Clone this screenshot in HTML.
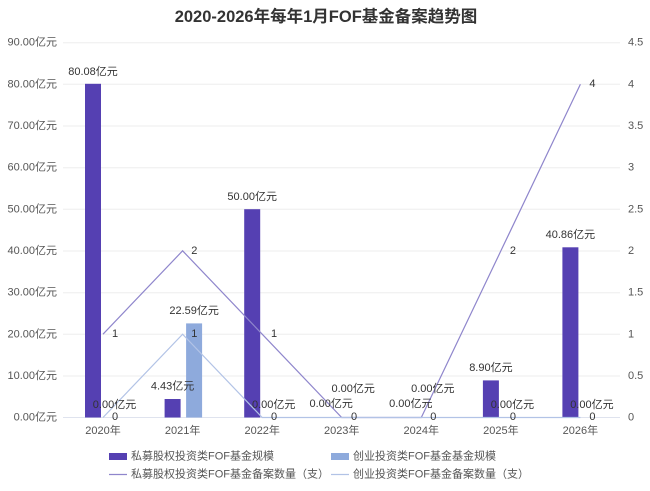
<!DOCTYPE html>
<html><head><meta charset="utf-8">
<style>
html,body{margin:0;padding:0;background:#fff;}
svg{display:block;}
text{font-family:"Liberation Sans","Noto Sans CJK SC",sans-serif;}
</style></head>
<body>
<svg width="650" height="491" viewBox="0 0 650 491" xmlns="http://www.w3.org/2000/svg">
<rect width="650" height="491" fill="#fff"/>
<text x="326" y="17" text-anchor="middle" dominant-baseline="central" font-size="16.5" font-weight="bold" fill="#333">2020-2026年每年1月FOF基金备案趋势图</text>

<!-- grid -->
<g stroke="#eeeeee" stroke-width="1">
<line x1="63" x2="620" y1="42.7" y2="42.7"/>
<line x1="63" x2="620" y1="84.3" y2="84.3"/>
<line x1="63" x2="620" y1="126" y2="126"/>
<line x1="63" x2="620" y1="167.7" y2="167.7"/>
<line x1="63" x2="620" y1="209.3" y2="209.3"/>
<line x1="63" x2="620" y1="251" y2="251"/>
<line x1="63" x2="620" y1="292.7" y2="292.7"/>
<line x1="63" x2="620" y1="334.3" y2="334.3"/>
<line x1="63" x2="620" y1="376" y2="376"/>
</g>
<line x1="63" x2="620" y1="417.5" y2="417.5" stroke="#dfe3ee" stroke-width="1"/>

<!-- left axis -->
<g font-size="11" fill="#555" text-anchor="end" dominant-baseline="central">
<text x="57" y="42.7">90.00亿元</text>
<text x="57" y="84.3">80.00亿元</text>
<text x="57" y="126">70.00亿元</text>
<text x="57" y="167.7">60.00亿元</text>
<text x="57" y="209.3">50.00亿元</text>
<text x="57" y="251">40.00亿元</text>
<text x="57" y="292.7">30.00亿元</text>
<text x="57" y="334.3">20.00亿元</text>
<text x="57" y="376">10.00亿元</text>
<text x="57" y="417.5">0.00亿元</text>
</g>
<!-- right axis -->
<g font-size="11" fill="#555" text-anchor="start" dominant-baseline="central">
<text x="628" y="42.7">4.5</text>
<text x="628" y="84.3">4</text>
<text x="628" y="126">3.5</text>
<text x="628" y="167.7">3</text>
<text x="628" y="209.3">2.5</text>
<text x="628" y="251">2</text>
<text x="628" y="292.7">1.5</text>
<text x="628" y="334.3">1</text>
<text x="628" y="376">0.5</text>
<text x="628" y="417.5">0</text>
</g>
<!-- x labels -->
<g font-size="11" fill="#555" text-anchor="middle" dominant-baseline="central">
<text x="103" y="431">2020年</text>
<text x="182.6" y="431">2021年</text>
<text x="262.2" y="431">2022年</text>
<text x="341.7" y="431">2023年</text>
<text x="421.3" y="431">2024年</text>
<text x="500.9" y="431">2025年</text>
<text x="580.4" y="431">2026年</text>
</g>

<!-- bars -->
<g fill="#5540b2">
<rect x="85" y="83.8" width="16" height="333.7"/>
<rect x="164.6" y="399" width="16" height="18.5"/>
<rect x="244.2" y="209.2" width="16" height="208.3"/>
<rect x="482.9" y="380.4" width="16" height="37.1"/>
<rect x="562.4" y="247.3" width="16" height="170.2"/>
</g>
<rect x="186.1" y="323.4" width="16" height="94.1" fill="#8eaadc"/>

<!-- lines -->
<polyline fill="none" stroke="#8f86cc" stroke-width="1.2" points="103,334.2 182.6,250.8 262.2,334.2 341.7,417.5 421.3,417.5 500.9,250.8 580.4,84.2"/>
<polyline fill="none" stroke="#b2c3e6" stroke-width="1.2" points="103,417.5 182.6,334.2 262.2,417.5 341.7,417.5 421.3,417.5 500.9,417.5 580.4,417.5"/>

<!-- bar labels -->
<g font-size="11" fill="#333" text-anchor="middle" dominant-baseline="central">
<text x="93" y="72">80.08亿元</text>
<text x="114.5" y="405">0.00亿元</text>
<text x="172.6" y="386.5">4.43亿元</text>
<text x="194.1" y="311">22.59亿元</text>
<text x="252.2" y="197">50.00亿元</text>
<text x="273.7" y="405">0.00亿元</text>
<text x="331.2" y="404">0.00亿元</text>
<text x="353.2" y="389">0.00亿元</text>
<text x="410.8" y="404">0.00亿元</text>
<text x="432.8" y="389">0.00亿元</text>
<text x="490.9" y="368">8.90亿元</text>
<text x="512.4" y="405">0.00亿元</text>
<text x="570.4" y="235">40.86亿元</text>
<text x="591.9" y="405">0.00亿元</text>
</g>
<!-- line labels -->
<g font-size="11" fill="#333" text-anchor="middle" dominant-baseline="central">
<text x="115" y="334.2">1</text>
<text x="115" y="417">0</text>
<text x="194.3" y="250.8">2</text>
<text x="194.3" y="334.2">1</text>
<text x="274" y="334.2">1</text>
<text x="274" y="417">0</text>
<text x="354" y="417">0</text>
<text x="433.3" y="417">0</text>
<text x="512.9" y="250.8">2</text>
<text x="512.9" y="417">0</text>
<text x="592.4" y="84.2">4</text>
<text x="592.4" y="417">0</text>
</g>

<!-- legend -->
<rect x="109" y="453" width="18" height="7" fill="#5540b2"/>
<text x="131" y="456.5" font-size="11" fill="#555" dominant-baseline="central">私募股权投资类FOF基金规模</text>
<rect x="331" y="453" width="18" height="7" fill="#8eaadc"/>
<text x="353" y="456.5" font-size="11" fill="#555" dominant-baseline="central">创业投资类FOF基金基金规模</text>
<line x1="109" x2="127" y1="474.5" y2="474.5" stroke="#8f86cc" stroke-width="1.2"/>
<text x="131" y="474.5" font-size="11" fill="#555" dominant-baseline="central">私募股权投资类FOF基金备案数量（支）</text>
<line x1="331" x2="349" y1="474.5" y2="474.5" stroke="#b2c3e6" stroke-width="1.2"/>
<text x="353" y="474.5" font-size="11" fill="#555" dominant-baseline="central">创业投资类FOF基金备案数量（支）</text>
</svg>
</body></html>
